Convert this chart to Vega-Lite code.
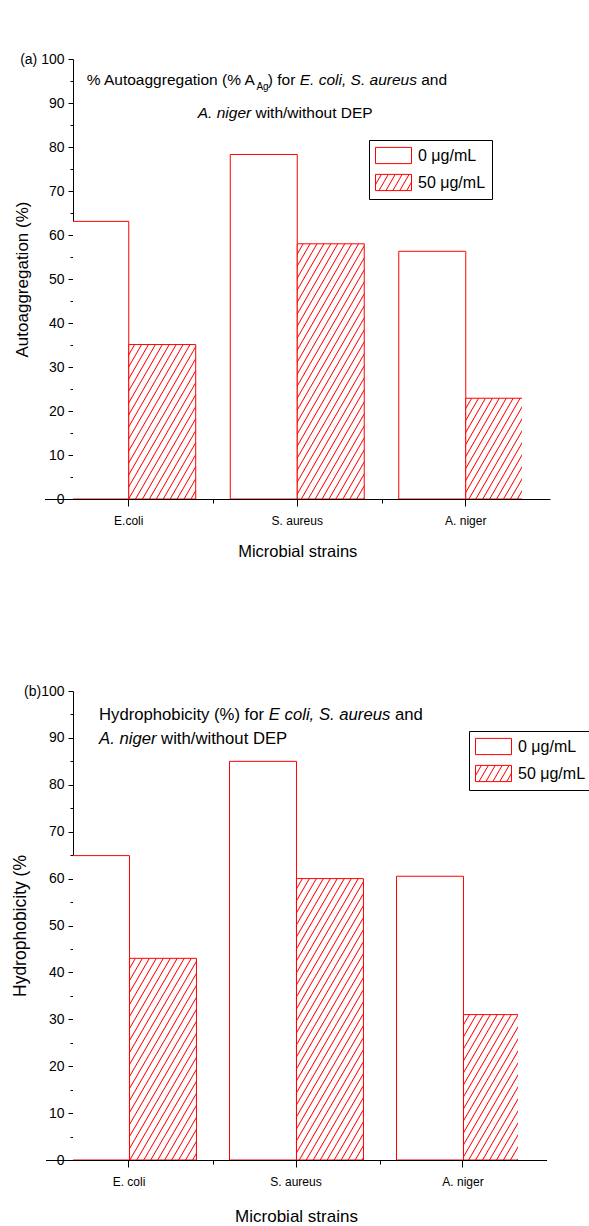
{
  "$schema": "https://vega.github.io/schema/vega-lite/v6.json",
  "autosize": {"type": "pad"},
  "padding": {"left": 11, "top": 52, "right": 0, "bottom": 0},
  "background": "white",
  "params": [
    {"name": "hatch", "value": [
      {"offset":0,"color":"#fff"},
      {"offset":0.02059,"color":"#fff"},{"offset":0.025,"color":"#f00"},{"offset":0.02941,"color":"#fff"},
      {"offset":0.05,"color":"#fff"},{"offset":0.05441,"color":"#f00"},{"offset":0.05882,"color":"#fff"},
      {"offset":0.07941,"color":"#fff"},{"offset":0.08382,"color":"#f00"},{"offset":0.08824,"color":"#fff"},
      {"offset":0.10882,"color":"#fff"},{"offset":0.11324,"color":"#f00"},{"offset":0.11765,"color":"#fff"},
      {"offset":0.13824,"color":"#fff"},{"offset":0.14265,"color":"#f00"},{"offset":0.14706,"color":"#fff"},
      {"offset":0.16765,"color":"#fff"},{"offset":0.17206,"color":"#f00"},{"offset":0.17647,"color":"#fff"},
      {"offset":0.19706,"color":"#fff"},{"offset":0.20147,"color":"#f00"},{"offset":0.20588,"color":"#fff"},
      {"offset":0.22647,"color":"#fff"},{"offset":0.23088,"color":"#f00"},{"offset":0.23529,"color":"#fff"},
      {"offset":0.25588,"color":"#fff"},{"offset":0.26029,"color":"#f00"},{"offset":0.26471,"color":"#fff"},
      {"offset":0.28529,"color":"#fff"},{"offset":0.28971,"color":"#f00"},{"offset":0.29412,"color":"#fff"},
      {"offset":0.31471,"color":"#fff"},{"offset":0.31912,"color":"#f00"},{"offset":0.32353,"color":"#fff"},
      {"offset":0.34412,"color":"#fff"},{"offset":0.34853,"color":"#f00"},{"offset":0.35294,"color":"#fff"},
      {"offset":0.37353,"color":"#fff"},{"offset":0.37794,"color":"#f00"},{"offset":0.38235,"color":"#fff"},
      {"offset":0.40294,"color":"#fff"},{"offset":0.40735,"color":"#f00"},{"offset":0.41176,"color":"#fff"},
      {"offset":0.43235,"color":"#fff"},{"offset":0.43676,"color":"#f00"},{"offset":0.44118,"color":"#fff"},
      {"offset":0.46176,"color":"#fff"},{"offset":0.46618,"color":"#f00"},{"offset":0.47059,"color":"#fff"},
      {"offset":0.49118,"color":"#fff"},{"offset":0.49559,"color":"#f00"},{"offset":0.5,"color":"#fff"},
      {"offset":0.52059,"color":"#fff"},{"offset":0.525,"color":"#f00"},{"offset":0.52941,"color":"#fff"},
      {"offset":0.55,"color":"#fff"},{"offset":0.55441,"color":"#f00"},{"offset":0.55882,"color":"#fff"},
      {"offset":0.57941,"color":"#fff"},{"offset":0.58382,"color":"#f00"},{"offset":0.58824,"color":"#fff"},
      {"offset":0.60882,"color":"#fff"},{"offset":0.61324,"color":"#f00"},{"offset":0.61765,"color":"#fff"},
      {"offset":0.63824,"color":"#fff"},{"offset":0.64265,"color":"#f00"},{"offset":0.64706,"color":"#fff"},
      {"offset":0.66765,"color":"#fff"},{"offset":0.67206,"color":"#f00"},{"offset":0.67647,"color":"#fff"},
      {"offset":0.69706,"color":"#fff"},{"offset":0.70147,"color":"#f00"},{"offset":0.70588,"color":"#fff"},
      {"offset":0.72647,"color":"#fff"},{"offset":0.73088,"color":"#f00"},{"offset":0.73529,"color":"#fff"},
      {"offset":0.75588,"color":"#fff"},{"offset":0.76029,"color":"#f00"},{"offset":0.76471,"color":"#fff"},
      {"offset":0.78529,"color":"#fff"},{"offset":0.78971,"color":"#f00"},{"offset":0.79412,"color":"#fff"},
      {"offset":0.81471,"color":"#fff"},{"offset":0.81912,"color":"#f00"},{"offset":0.82353,"color":"#fff"},
      {"offset":0.84412,"color":"#fff"},{"offset":0.84853,"color":"#f00"},{"offset":0.85294,"color":"#fff"},
      {"offset":0.87353,"color":"#fff"},{"offset":0.87794,"color":"#f00"},{"offset":0.88235,"color":"#fff"},
      {"offset":0.90294,"color":"#fff"},{"offset":0.90735,"color":"#f00"},{"offset":0.91176,"color":"#fff"},
      {"offset":0.93235,"color":"#fff"},{"offset":0.93676,"color":"#f00"},{"offset":0.94118,"color":"#fff"},
      {"offset":0.96176,"color":"#fff"},{"offset":0.96618,"color":"#f00"},{"offset":0.97059,"color":"#fff"},
      {"offset":0.99118,"color":"#fff"},{"offset":0.99559,"color":"#f00"},{"offset":1,"color":"#fff"}
    ]}
  ],
  "config": {
    "font": "Liberation Sans",
    "view": {"stroke": null},
    "axis": {"domainColor": "#000", "tickColor": "#000", "labelColor": "#000", "titleColor": "#000", "grid": false, "titleFontWeight": "normal", "labelFont": "Liberation Sans", "titleFont": "Liberation Sans", "domainWidth": 1, "tickWidth": 1},
    "legend": {"labelFont": "Liberation Sans", "labelColor": "#000"},
    "text": {"color": "#000", "font": "Liberation Sans"}
  },
  "datasets": {
    "auto": [
      {"strain": "E.coli", "dose": "0 μg/mL", "v": 63.1},
      {"strain": "E.coli", "dose": "50 μg/mL", "v": 35.1},
      {"strain": "S. aureus", "dose": "0 μg/mL", "v": 78.3},
      {"strain": "S. aureus", "dose": "50 μg/mL", "v": 58.0},
      {"strain": "A. niger", "dose": "0 μg/mL", "v": 56.3},
      {"strain": "A. niger", "dose": "50 μg/mL", "v": 22.9}
    ],
    "hydro": [
      {"strain": "E. coli", "dose": "0 μg/mL", "v": 64.9},
      {"strain": "E. coli", "dose": "50 μg/mL", "v": 43.0},
      {"strain": "S. aureus", "dose": "0 μg/mL", "v": 85.0},
      {"strain": "S. aureus", "dose": "50 μg/mL", "v": 60.0},
      {"strain": "A. niger", "dose": "0 μg/mL", "v": 60.5},
      {"strain": "A. niger", "dose": "50 μg/mL", "v": 31.0}
    ]
  },
  "spacing": 192,
  "bounds": "flush",
  "resolve": {"scale": {"fill": "independent"}, "legend": {"fill": "independent"}},
  "vconcat": [
    {
      "width": 449,
      "height": 440,
      "data": {"name": "auto"},
      "resolve": {"axis": {"x": "independent", "y": "independent"}},
      "layer": [
        {
          "mark": {"type": "bar", "clip": true, "stroke": "#ff0000", "strokeWidth": 1,
            "fill": {"expr": "datum.dose === '0 μg/mL' ? '#ffffff' : {gradient: 'linear', x1: 0, y1: 0, x2: 0.28443 / (0.0809 + pow(datum.v * 0.0107843, 2)), y2: (datum.v * 0.0107843) / (0.0809 + pow(datum.v * 0.0107843, 2)), stops: hatch}"}},
          "encoding": {
            "x": {"field": "strain", "type": "nominal", "sort": null,
              "scale": {"domain": ["E.coli", "S. aureus", "A. niger"], "range": [-28.5, 477], "paddingInner": 0.205, "paddingOuter": 0.1025},
              "axis": {"orient": "bottom", "title": "Microbial strains", "titleFontSize": 16.5, "titleY": 52, "titleBaseline": "middle", "labelFontSize": 12, "labelPadding": 9, "tickSize": 7, "labelAngle": 0}},
            "xOffset": {"field": "dose", "type": "nominal", "sort": null, "scale": {"paddingInner": 0, "paddingOuter": 0}},
            "y": {"field": "v", "type": "quantitative", "scale": {"domain": [0, 100], "nice": false},
              "axis": {"orient": "left", "values": [0,10,20,30,40,50,60,70,80,90,100], "tickSize": 5,
                "labelExpr": "datum.value === 100 ? '(a) 100' : datum.label",
                "labelFontSize": 14, "labelPadding": 4,
                "title": "Autoaggregation (%)", "titleFontSize": 17, "titleX": -51, "titleY": 220, "titleAngle": -90, "titleBaseline": "middle", "titleAlign": "center"}}
          }
        },
        {
          "mark": {"type": "point", "clip": true, "filled": true, "shape": "M-1,-0.9H3V0.9H-1Z", "size": 324, "stroke": "#ff0000", "strokeWidth": 1},
          "encoding": {
            "x": {"field": "strain", "type": "nominal", "sort": null, "scale": {"domain": ["E.coli", "S. aureus", "A. niger"]},
              "axis": {"orient": "bottom", "labels": false, "domain": false, "title": null, "tickSize": 4, "tickOffset": 84.25,
                "tickOpacity": {"condition": {"test": "datum.value === 'A. niger'", "value": 0}, "value": 1}}},
            "y": {"datum": -50, "type": "quantitative", "scale": {"domain": [0, 100]},
              "axis": {"orient": "left", "values": [5,15,25,35,45,55,65,75,85,95], "labels": false, "domain": false, "title": null, "tickSize": 3}},
            "fill": {"field": "dose", "type": "nominal", "sort": null,
              "scale": {"domain": ["0 μg/mL", "50 μg/mL"], "range": ["#ffffff", {"expr": "{gradient: 'linear', x1: 0, y1: 0, x2: 6.13, y2: 1.593, stops: hatch}"}]},
              "legend": {"orient": "none", "legendX": 296, "legendY": 81, "title": null, "symbolType": "M-1,-0.9H3V0.9H-1Z", "symbolSize": 324, "symbolStrokeColor": "#ff0000", "symbolStrokeWidth": 1, "symbolOpacity": 1, "labelOffset": 24, "labelFontSize": 16, "rowPadding": 6, "padding": 6, "strokeColor": "#000", "fillColor": "#fff"}}
          }
        },
        {"data": {"values": [{}]}, "mark": {"type": "text", "text": "% Autoaggregation (% A", "align": "left", "baseline": "middle", "fontSize": 15.5, "dx": -42},
          "encoding": {"x": {"datum": "E.coli", "axis": null}, "y": {"datum": 95.2, "axis": null}}},
        {"data": {"values": [{}]}, "mark": {"type": "text", "text": "Ag", "align": "left", "baseline": "middle", "fontSize": 10, "dx": 127.7, "dy": 7},
          "encoding": {"x": {"datum": "E.coli", "axis": null}, "y": {"datum": 95.2, "axis": null}}},
        {"data": {"values": [{}]}, "mark": {"type": "text", "text": ") for", "align": "left", "baseline": "middle", "fontSize": 15.5, "dx": 139.1},
          "encoding": {"x": {"datum": "E.coli", "axis": null}, "y": {"datum": 95.2, "axis": null}}},
        {"data": {"values": [{}]}, "mark": {"type": "text", "text": "E. coli, S. aureus", "align": "left", "baseline": "middle", "fontSize": 15.5, "fontStyle": "italic", "dx": 171},
          "encoding": {"x": {"datum": "E.coli", "axis": null}, "y": {"datum": 95.2, "axis": null}}},
        {"data": {"values": [{}]}, "mark": {"type": "text", "text": "and", "align": "left", "baseline": "middle", "fontSize": 15.5, "dx": 292.5},
          "encoding": {"x": {"datum": "E.coli", "axis": null}, "y": {"datum": 95.2, "axis": null}}},
        {"data": {"values": [{}]}, "mark": {"type": "text", "text": "A. niger", "align": "left", "baseline": "middle", "fontSize": 15.5, "fontStyle": "italic", "dx": 69},
          "encoding": {"x": {"datum": "E.coli", "axis": null}, "y": {"datum": 87.7, "axis": null}}},
        {"data": {"values": [{}]}, "mark": {"type": "text", "text": "with/without DEP", "align": "left", "baseline": "middle", "fontSize": 15.5, "dx": 126.7},
          "encoding": {"x": {"datum": "E.coli", "axis": null}, "y": {"datum": 87.7, "axis": null}}}
      ]
    },
    {
      "width": 445,
      "height": 469,
      "data": {"name": "hydro"},
      "resolve": {"axis": {"x": "independent", "y": "independent"}},
      "layer": [
        {
          "mark": {"type": "bar", "clip": true, "stroke": "#ff0000", "strokeWidth": 1,
            "fill": {"expr": "datum.dose === '0 μg/mL' ? '#ffffff' : {gradient: 'linear', x1: 0, y1: 0, x2: 0.2823 / (0.079693 + pow(datum.v * 0.0114951, 2)), y2: (datum.v * 0.0114951) / (0.079693 + pow(datum.v * 0.0114951, 2)), stops: hatch}"}},
          "encoding": {
            "x": {"field": "strain", "type": "nominal", "sort": null,
              "scale": {"domain": ["E. coli", "S. aureus", "A. niger"], "range": [-27.5, 473.5], "paddingInner": 0.2036, "paddingOuter": 0.1018},
              "axis": {"orient": "bottom", "title": "Microbial strains", "titleFontSize": 17, "titleY": 56, "titleBaseline": "middle", "labelFontSize": 12, "labelPadding": 9, "tickSize": 7, "labelAngle": 0}},
            "xOffset": {"field": "dose", "type": "nominal", "sort": null, "scale": {"paddingInner": 0, "paddingOuter": 0}},
            "y": {"field": "v", "type": "quantitative", "scale": {"domain": [0, 100], "nice": false},
              "axis": {"orient": "left", "values": [0,10,20,30,40,50,60,70,80,90,100], "tickSize": 5,
                "labelExpr": "datum.value === 100 ? '(b)100' : datum.label",
                "labelFontSize": 14, "labelPadding": 4,
                "title": "Hydrophobicity (%", "titleFontSize": 17.5, "titleX": -53, "titleY": 234.5, "titleAngle": -90, "titleBaseline": "middle", "titleAlign": "center"}}
          }
        },
        {
          "mark": {"type": "point", "clip": true, "filled": true, "shape": "M-1,-0.9H3V0.9H-1Z", "size": 324, "stroke": "#ff0000", "strokeWidth": 1},
          "encoding": {
            "x": {"field": "strain", "type": "nominal", "sort": null, "scale": {"domain": ["E. coli", "S. aureus", "A. niger"]},
              "axis": {"orient": "bottom", "labels": false, "domain": false, "title": null, "tickSize": 4, "tickOffset": 83.5,
                "tickOpacity": {"condition": {"test": "datum.value === 'A. niger'", "value": 0}, "value": 1}}},
            "y": {"datum": -50, "type": "quantitative", "scale": {"domain": [0, 100]},
              "axis": {"orient": "left", "values": [5,15,25,35,45,55,65,75,85,95], "labels": false, "domain": false, "title": null, "tickSize": 3}},
            "fill": {"field": "dose", "type": "nominal", "sort": null,
              "scale": {"domain": ["0 μg/mL", "50 μg/mL"], "range": ["#ffffff", {"expr": "{gradient: 'linear', x1: 0, y1: 0, x2: 6.13, y2: 1.593, stops: hatch}"}]},
              "legend": {"orient": "none", "legendX": 396, "legendY": 40, "title": null, "symbolType": "M-1,-0.9H3V0.9H-1Z", "symbolSize": 324, "symbolStrokeColor": "#ff0000", "symbolStrokeWidth": 1, "symbolOpacity": 1, "labelOffset": 24, "labelFontSize": 16, "rowPadding": 6, "padding": 6, "strokeColor": "#000", "fillColor": "#fff"}}
          }
        },
        {"data": {"values": [{}]}, "mark": {"type": "text", "text": "Hydrophobicity (%) for", "align": "left", "baseline": "middle", "fontSize": 16.7, "dx": -30},
          "encoding": {"x": {"datum": "E. coli", "axis": null}, "y": {"datum": 94.9, "axis": null}}},
        {"data": {"values": [{}]}, "mark": {"type": "text", "text": "E coli, S. aureus", "align": "left", "baseline": "middle", "fontSize": 16.7, "fontStyle": "italic", "dx": 139.8},
          "encoding": {"x": {"datum": "E. coli", "axis": null}, "y": {"datum": 94.9, "axis": null}}},
        {"data": {"values": [{}]}, "mark": {"type": "text", "text": "and", "align": "left", "baseline": "middle", "fontSize": 16.7, "dx": 266},
          "encoding": {"x": {"datum": "E. coli", "axis": null}, "y": {"datum": 94.9, "axis": null}}},
        {"data": {"values": [{}]}, "mark": {"type": "text", "text": "A. niger", "align": "left", "baseline": "middle", "fontSize": 16.7, "fontStyle": "italic", "dx": -30},
          "encoding": {"x": {"datum": "E. coli", "axis": null}, "y": {"datum": 89.8, "axis": null}}},
        {"data": {"values": [{}]}, "mark": {"type": "text", "text": "with/without DEP", "align": "left", "baseline": "middle", "fontSize": 16.7, "dx": 32.1},
          "encoding": {"x": {"datum": "E. coli", "axis": null}, "y": {"datum": 89.8, "axis": null}}}
      ]
    }
  ]
}
